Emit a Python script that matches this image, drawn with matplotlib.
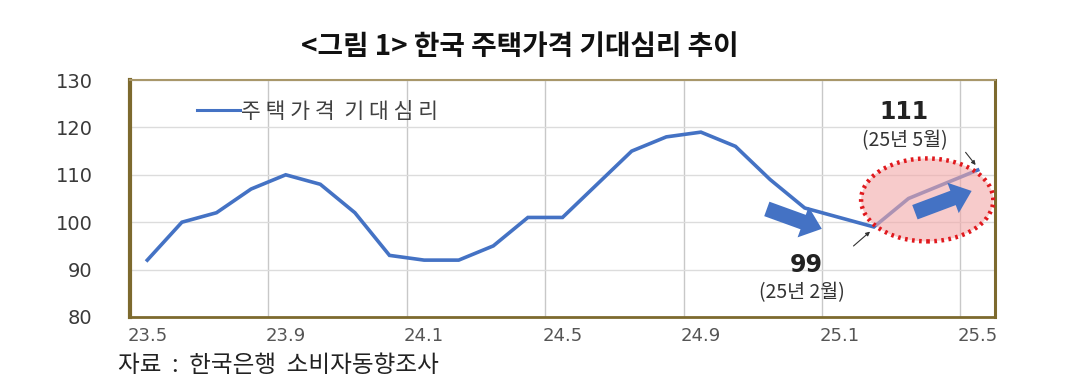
import matplotlib
matplotlib.use("Agg")
import matplotlib.pyplot as plt
from matplotlib.patches import Ellipse, FancyArrowPatch

plt.rcParams['font.family'] = ['Noto Sans CJK KR', 'DejaVu Sans']

# ---- data ----
months = ["23.5", "23.6", "23.7", "23.8", "23.9", "23.10", "23.11", "23.12",
          "24.1", "24.2", "24.3", "24.4", "24.5", "24.6", "24.7", "24.8",
          "24.9", "24.10", "24.11", "24.12", "25.1", "25.2", "25.3", "25.4", "25.5"]
values = [92, 100, 102, 107, 110, 108, 102, 93,
          92, 92, 95, 101, 101, 108, 115, 118,
          119, 116, 109, 103, 101, 99, 105, 108, 111]
tick_labels = ["23.5", "23.9", "24.1", "24.5", "24.9", "25.1", "25.5"]
series_name = "주 택 가 격  기 대 심 리"
title = "<그림 1> 한국 주택가격 기대심리 추이"
source = "자료  :  한국은행  소비자동향조사"
low_label, low_date = "99", "(25년 2월)"
high_label, high_date = "111", "(25년 5월)"

W, H = 1069, 391
fig = plt.figure(figsize=(W / 100, H / 100), dpi=100)
ax = fig.add_axes([130 / W, 1 - 317 / H, (995 - 130) / W, (317 - 80) / H])

x = list(range(len(months)))
blue = "#4472C4"
ax.plot(x, values, color=blue, lw=2.6, label=series_name, zorder=3,
        solid_joinstyle="miter")

ax.set_xlim(-0.5, len(months) - 0.5)
ax.set_ylim(80, 130)
ax.set_yticks([80, 90, 100, 110, 120, 130])
tick_pos = [months.index(t) for t in tick_labels]
ax.set_xticks(tick_pos)
ax.set_xticklabels(tick_labels)
ax.set_xticks([p - 0.5 for p in tick_pos[1:]], minor=True)
ax.tick_params(axis="both", which="both", length=0)
ax.tick_params(axis="y", labelsize=14, labelcolor="#3a3a3a", pad=27)
ax.tick_params(axis="x", labelsize=13, labelcolor="#555555", pad=7)
for lab in ax.get_yticklabels() + ax.get_xticklabels():
    lab.set_family("DejaVu Sans")

ax.grid(axis="y", color="#dcdcdc", lw=1.0)
ax.grid(axis="x", which="minor", color="#c8c8c8", lw=1.0)
ax.set_axisbelow(True)

spine_col = "#7d6a2e"
ax.spines["left"].set_color(spine_col); ax.spines["left"].set_linewidth(3)
ax.spines["bottom"].set_color(spine_col); ax.spines["bottom"].set_linewidth(2)
ax.spines["right"].set_color(spine_col); ax.spines["right"].set_linewidth(2.2)
ax.spines["top"].set_color("#a8976a"); ax.spines["top"].set_linewidth(1.5)

leg = ax.legend(loc="upper left", bbox_to_anchor=(0.055, 0.995), frameon=False,
                fontsize=15.5, handlelength=2.0, handletextpad=0.05,
                labelcolor="#404040")
for line in leg.get_lines():
    line.set_linewidth(2.2)

# highlight ellipse
ell = Ellipse((22.54, 104.7), 3.82, 17.5, facecolor="#f3a9a9", alpha=0.6,
              edgecolor="none", zorder=4)
ax.add_patch(ell)
ell_edge = Ellipse((22.54, 104.7), 3.82, 17.5, facecolor="none",
                   edgecolor="#e0191e", lw=3.2, linestyle=(0, (0.6, 1.0)), zorder=5)
ax.add_patch(ell_edge)

# block arrows
for (x0, y0), (x1, y1) in [((17.83, 103.0), (19.57, 98.4)),
                           ((22.11, 101.9), (23.9, 106.8))]:
    arr = FancyArrowPatch((x0, y0), (x1, y1),
                          arrowstyle="simple,head_width=1.8,head_length=1.1,tail_width=0.85",
                          mutation_scale=13, color=blue, lw=0, zorder=6)
    ax.add_patch(arr)

# pointer lines
ax.annotate("", xy=(20.95, 98.4), xytext=(20.35, 94.6),
            arrowprops=dict(arrowstyle="-|>", color="#333333", lw=0.8,
                            mutation_scale=6), zorder=6)
ax.annotate("", xy=(23.99, 111.6), xytext=(23.6, 115.2),
            arrowprops=dict(arrowstyle="-|>", color="#333333", lw=0.8,
                            mutation_scale=6), zorder=6)

ax.text(19.05, 91.0, low_label, ha="center", va="center", fontsize=17,
        fontweight="bold", family="DejaVu Sans", color="#222222")
ax.text(18.93, 85.1, low_date, ha="center", va="center", fontsize=14,
        color="#333333")
ax.text(21.88, 123.2, high_label, ha="center", va="center", fontsize=17,
        fontweight="bold", family="DejaVu Sans", color="#222222")
ax.text(21.88, 117.3, high_date, ha="center", va="center", fontsize=14,
        color="#333333")

fig.text(520 / W, 1 - 47 / H, title, ha="center", va="center", fontsize=20,
         fontweight="bold", color="#111111")
fig.text(118 / W, 1 - 365 / H, source, ha="left", va="center", fontsize=17,
         color="#222222")

fig.savefig("out.png", dpi=100)
